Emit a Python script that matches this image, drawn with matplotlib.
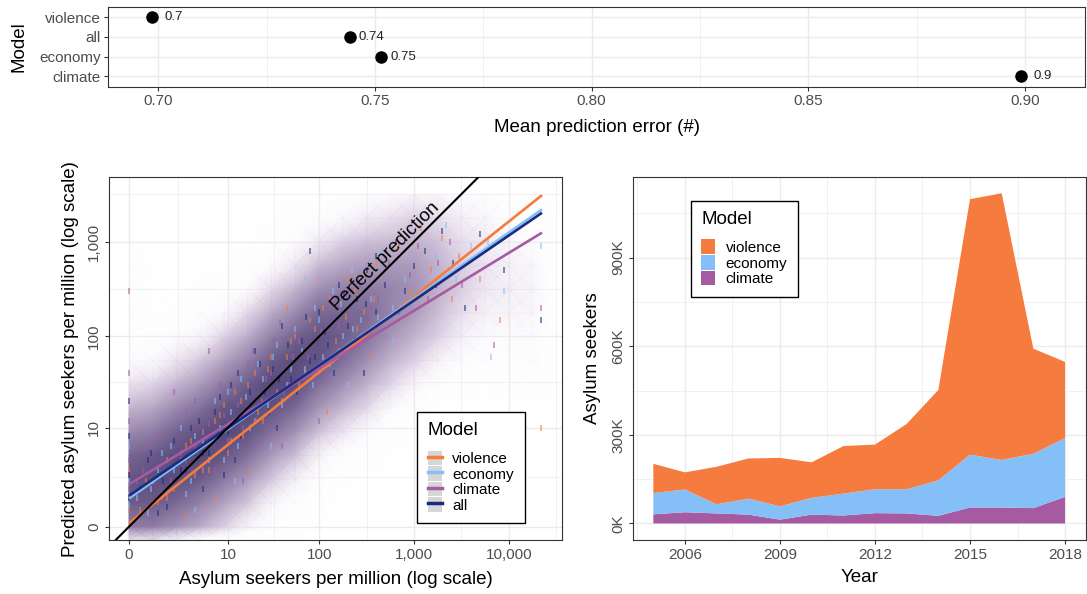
import numpy as np
import matplotlib.pyplot as plt
from matplotlib.colors import LinearSegmentedColormap
from matplotlib.lines import Line2D
from matplotlib.patches import Patch
from matplotlib.ticker import FixedLocator, FuncFormatter

plt.rcParams['font.family'] = ['Liberation Sans', 'DejaVu Sans']

# Mean prediction error per model
err_models = ['climate', 'economy', 'all', 'violence']
err_values = [0.8991, 0.7515, 0.7442, 0.6987]

# Predicted vs observed asylum seekers per million (sample of the cloud)
violence_x = [0, 0, 0, 0.5, 1, 1.5, 2, 3, 4, 5, 6, 8, 10, 12, 15, 20, 25, 30, 40, 50, 60, 80, 100, 130,
              160, 200, 250, 300, 400, 500, 700, 900, 1200, 1500, 2000, 2500, 3000, 5000, 8000, 22000,
              3, 7, 18, 45, 120, 350,
              0.3, 0.8, 1.5, 2.5, 3.5, 5, 7, 9, 11, 14, 17, 22, 28, 35, 45, 55, 70, 90, 110, 150,
              190, 240, 300, 380]
violence_y = [1, 3, 0.5, 2, 0.8, 4, 1.5, 6, 2.5, 9, 3, 14, 5, 25, 8, 40, 12, 60, 20, 90, 30, 150, 45, 250,
              70, 400, 120, 180, 600, 150, 900, 300, 1400, 500, 1100, 250, 700, 400, 150, 10,
              0.3, 1, 3, 200, 15, 60,
              0.5, 2, 1, 4, 7, 3, 12, 18, 7, 20, 30, 15, 45, 25, 60, 100, 40, 120, 200, 90,
              160, 300, 450, 250]
economy_x = [0, 0, 0, 0.7, 1.2, 2, 2.5, 3.5, 5, 7, 9, 11, 14, 18, 22, 28, 35, 45, 55, 70, 90, 110, 140,
             180, 220, 280, 350, 450, 600, 800, 1000, 1300, 1700, 2200, 2800, 4000, 6000, 6500, 9000,
             22000, 4, 12, 30, 70, 200, 600,
             0.2, 0.6, 1, 1.8, 3, 4, 6, 8, 10, 13, 16, 20, 25, 32, 40, 50, 65, 85, 100, 130,
             170, 230, 300, 420]
economy_y = [2, 6, 0.7, 1.5, 5, 3, 10, 2, 7, 20, 4, 15, 35, 10, 50, 18, 80, 30, 120, 45, 200, 60, 300,
             100, 500, 150, 250, 800, 200, 400, 1200, 300, 700, 1500, 400, 900, 1000, 60, 300,
             900, 0.5, 2, 6, 400, 30, 90,
             1, 0.4, 3, 6, 1.2, 8, 4, 10, 25, 6, 22, 12, 35, 60, 18, 45, 70, 30, 150, 50,
             220, 120, 380, 160]
climate_x = [0, 0, 0, 0, 0, 0.4, 1, 1.8, 2.5, 3, 4, 6, 8, 10, 13, 17, 21, 27, 33, 42, 52, 65, 85, 105,
             135, 170, 210, 270, 330, 420, 550, 700, 900, 1100, 1400, 1800, 2400, 3200, 4500, 7000,
             22000, 2, 6, 15, 40, 100,
             0.2, 0.5, 1.2, 2, 3, 4, 5, 7, 9, 12, 15, 19, 24, 30, 38, 48, 60, 75, 95, 120,
             160, 200, 260, 350]
climate_y = [4, 12, 40, 300, 1.5, 3, 8, 2, 5, 15, 6, 11, 30, 7, 18, 50, 12, 35, 90, 25, 60, 150, 40, 110,
             250, 70, 180, 350, 120, 250, 600, 180, 450, 900, 250, 600, 1000, 350, 200, 80,
             200, 25, 70, 2, 6, 12,
             2, 6, 1, 10, 4, 20, 9, 3, 14, 30, 10, 70, 20, 40, 140, 30, 90, 60, 200, 40,
             130, 300, 80, 200]
all_x = [0, 0, 0, 0, 0.6, 1.3, 2, 3, 4.5, 6, 8, 10, 13, 16, 20, 26, 32, 40, 50, 65, 80, 100, 125, 160,
         200, 250, 320, 400, 500, 650, 800, 1000, 1300, 1700, 2000, 2600, 3500, 5000, 9000, 22000,
         1, 5, 12, 35, 80, 300,
         0.3, 0.7, 1.5, 2.5, 3.5, 5, 7, 9, 11, 14, 18, 23, 29, 37, 46, 58, 72, 90, 115, 145,
         185, 240, 310, 400]
all_y = [2.5, 8, 20, 1, 4, 2, 7, 3, 12, 5, 22, 9, 40, 14, 70, 25, 45, 130, 35, 90, 55, 180, 80, 350,
         130, 250, 500, 180, 350, 1000, 300, 550, 800, 350, 1300, 600, 200, 1200, 500, 150,
         0.4, 1.5, 4, 10, 800, 40,
         1.5, 5, 0.6, 3, 10, 5, 15, 2.5, 30, 8, 25, 50, 15, 35, 80, 25, 160, 60, 110, 40,
         280, 90, 220, 700]

# Overall density of the prediction cloud (0-1); rows follow density_y, columns density_x
density_x = [0, 0.78, 2.16, 4.62, 9, 16.8, 30.6, 55.2, 99, 177, 315, 561, 999, 1777, 3161, 5622,
             9999, 17782, 31622]
density_y = [-0.29, 0, 0.78, 2.16, 4.62, 9, 16.8, 30.6, 55.2, 99, 177, 315, 561, 999, 1777, 3161]
density = [
    [.15, .15, .10, .05, .00, .00, .00, .00, .00, .00, .00, .00, .00, .00, .00, .00, .00, .00, 0],
    [.63, .62, .50, .36, .20, .10, .03, .01, .00, .00, .00, .00, .00, .00, .00, .00, .00, .00, 0],
    [.83, .86, .75, .60, .40, .24, .10, .04, .01, .00, .00, .00, .00, .00, .00, .00, .00, .00, 0],
    [.90, .95, .96, .85, .65, .45, .24, .12, .05, .01, .00, .00, .00, .00, .00, .00, .00, .00, 0],
    [.77, .86, .97, 1.0, .90, .70, .45, .28, .11, .04, .02, .00, .00, .00, .00, .00, .00, .00, 0],
    [.54, .62, .80, .92, 1.0, .92, .70, .50, .27, .15, .07, .02, .00, .00, .00, .00, .00, .00, 0],
    [.32, .38, .55, .70, .90, .98, .92, .75, .48, .31, .18, .08, .03, .00, .00, .00, .00, .00, 0],
    [.16, .19, .32, .45, .65, .85, 1.0, .96, .71, .51, .34, .19, .10, .04, .02, .00, .02, .03, 0],
    [.07, .08, .15, .24, .40, .60, .85, .97, .91, .72, .52, .33, .20, .11, .06, .04, .04, .05, 0],
    [.03, .03, .06, .10, .20, .36, .60, .80, .92, .84, .69, .48, .33, .20, .12, .07, .07, .07, 0],
    [.02, .00, .02, .04, .08, .18, .36, .55, .76, .78, .74, .58, .45, .28, .17, .11, .10, .09, 0],
    [.02, .00, .00, .01, .03, .07, .18, .32, .52, .60, .64, .58, .50, .34, .21, .14, .12, .10, 0],
    [.02, .00, .00, .00, .00, .03, .07, .15, .30, .38, .45, .45, .45, .33, .21, .15, .11, .09, 0],
    [.00, .00, .00, .00, .00, .00, .03, .06, .14, .20, .27, .30, .33, .26, .17, .13, .09, .06, 0],
    [.00, .00, .00, .00, .00, .00, .00, .02, .05, .08, .13, .16, .20, .17, .12, .09, .05, .03, 0],
    [.00, .00, .00, .00, .00, .00, .00, .00, .02, .03, .05, .07, .10, .09, .06, .05, .02, .01, 0],
]

# Fitted lines: predicted value at x = 0 and x = 22400
fit_x = [0, 22400]
fit_violence = [0.086, 3090]
fit_economy = [0.99, 2192]
fit_climate = [1.79, 1244]
fit_all = [1.12, 2017]

# Asylum seekers per year attributed to each driver
years = [2005, 2006, 2007, 2008, 2009, 2010, 2011, 2012, 2013, 2014, 2015, 2016, 2017, 2018]
area_climate = [31000, 38000, 34000, 30000, 13000, 30000, 27000, 35000, 34000, 26000, 54000, 54000, 52000, 90000]
area_economy = [72000, 77000, 31000, 54000, 45000, 57000, 74000, 81000, 82000, 120000, 179000, 161000, 184000, 199000]
area_violence = [99000, 58000, 127000, 136000, 164000, 120000, 161000, 151000, 221000, 306000, 865000, 903000, 356000, 258000]

col_violence = '#F57C3E'
col_economy = '#84C0F7'
col_climate = '#A65AA1'
col_all = '#1B2A82'

grid_col = '#EBEBEB'
tick_col = '#4D4D4D'


def style_axes(ax):
    for s in ax.spines.values():
        s.set_color('#333333')
        s.set_linewidth(0.8)
    ax.tick_params(which='major', length=3, width=0.8, color='#333333',
                   labelsize=11, labelcolor=tick_col, pad=2.5)
    ax.tick_params(which='minor', length=0)
    ax.grid(which='major', color=grid_col, lw=1.0)
    ax.grid(which='minor', color=grid_col, lw=0.5)
    ax.set_axisbelow(True)


def model_legend(ax, handles, labels, anchor):
    leg = ax.legend(handles, labels, title='Model', loc='upper left', bbox_to_anchor=anchor,
                    borderaxespad=0, fontsize=11, title_fontsize=13.5,
                    frameon=True, fancybox=False, framealpha=1, edgecolor='black',
                    handlelength=0.9, handleheight=1.1, labelspacing=0.0, handletextpad=0.7,
                    borderpad=0.7, alignment='left')
    leg.get_frame().set_linewidth(1.0)
    leg._legend_box.sep = 8
    leg.set_zorder(10)
    return leg


fig = plt.figure(figsize=(10.87, 5.94), dpi=100)

# ---- top: mean prediction error ----
ax1 = fig.add_axes([0.0996, 0.8540, 0.8990, 0.1347])
ypos = np.arange(1, len(err_models) + 1)
ax1.plot(err_values, ypos, 'o', color='black', ms=8, zorder=3)
for v, yp in zip(err_values, ypos):
    ax1.text(v + 0.005, yp, f'{round(v, 2):g}', ha='center', va='center', fontsize=9.5, color='#222222')
ax1.set_yticks(ypos)
ax1.set_yticklabels(err_models)
ax1.set_ylim(0.47, 4.53)
ax1.set_xlim(0.6885, 0.9139)
ax1.set_xticks([0.70, 0.75, 0.80, 0.85, 0.90])
ax1.set_xticklabels(['0.70', '0.75', '0.80', '0.85', '0.90'])
ax1.xaxis.set_minor_locator(FixedLocator([0.725, 0.775, 0.825, 0.875]))
style_axes(ax1)
ax1.grid(which='minor', axis='y', visible=False)
ax1.set_xlabel('Mean prediction error (#)', fontsize=13.5, labelpad=8)
ax1.set_ylabel('Model', fontsize=13.5, labelpad=8)

# ---- bottom left: predicted vs observed ----
ax2 = fig.add_axes([0.1000, 0.0904, 0.4173, 0.6111])
fwd = lambda v: np.log10(np.asarray(v, dtype=float) + 1)
inv = lambda t: 10 ** np.asarray(t, dtype=float) - 1
ax2.set_xscale('function', functions=(fwd, inv))
ax2.set_yscale('function', functions=(fwd, inv))

# cloud density painted above the grid; the sparse fringe fades slowly to transparent
haze = LinearSegmentedColormap.from_list(
    'haze', [(0.0, (1, 1, 1, 0)), (0.08, (0.94, 0.92, 0.96, 0.3)), (0.2, (0.86, 0.81, 0.89, 1)),
             (0.4, '#B3A2C1'), (0.7, '#83709C'), (1.0, '#55487A')])
ax2.pcolormesh(density_x, density_y, np.array(density), shading='gouraud',
               cmap=haze, vmin=0, vmax=1, zorder=0.6)

for xs, ys, c in [(violence_x, violence_y, col_violence), (economy_x, economy_y, col_economy),
                  (climate_x, climate_y, col_climate), (all_x, all_y, col_all)]:
    ax2.plot(xs, ys, '|', color=c, ms=4, mew=1.3, alpha=0.6, zorder=2)

fits = [('violence', fit_violence, col_violence), ('economy', fit_economy, col_economy),
        ('climate', fit_climate, col_climate), ('all', fit_all, col_all)]
for name, fy, c in fits:
    ax2.plot(fit_x, fy, color=c, lw=1.9, solid_capstyle='butt', zorder=3)

ax2.axline((1, 1), (10, 10), color='black', lw=1.5, zorder=4)
ax2.text(506, 705, 'Perfect prediction', rotation=45, rotation_mode='anchor',
         ha='center', va='center', fontsize=13.5, color='black', zorder=5)

ax2.set_xlim(-0.389, 36640)
ax2.set_ylim(-0.281, 4763)
ax2.xaxis.set_major_locator(FixedLocator([0, 10, 100, 1000, 10000]))
ax2.yaxis.set_major_locator(FixedLocator([0, 10, 100, 1000]))
ax2.xaxis.set_minor_locator(FixedLocator([2.317, 32.3, 317, 3162, 31622]))
ax2.yaxis.set_minor_locator(FixedLocator([2.317, 32.3, 317, 3162]))
comma = FuncFormatter(lambda v, p: f'{int(round(v)):,}')
ax2.xaxis.set_major_formatter(comma)
ax2.yaxis.set_major_formatter(comma)
style_axes(ax2)
for lab in ax2.get_yticklabels():
    lab.set_rotation(90)
    lab.set_va('center')
ax2.set_xlabel('Asylum seekers per million (log scale)', fontsize=13.5, labelpad=6.5)
ax2.set_ylabel('Predicted asylum seekers per million (log scale)', fontsize=13.5, labelpad=5.5)

handles = [(Patch(facecolor='#D6D6D6', edgecolor='none'), Line2D([], [], color=c, lw=2.5))
           for name, fy, c in fits]
model_legend(ax2, handles, [f[0] for f in fits], (0.680, 0.354))

# ---- bottom right: stacked area by year ----
ax3 = fig.add_axes([0.5821, 0.0909, 0.4166, 0.6116])
polys = ax3.stackplot(years, area_climate, area_economy, area_violence,
                      colors=[col_climate, col_economy, col_violence], lw=0, zorder=2)
ax3.set_xlim(2004.35, 2018.65)
ax3.set_ylim(-56000, 1174000)
ax3.set_xticks([2006, 2009, 2012, 2015, 2018])
ax3.xaxis.set_minor_locator(FixedLocator([2004.5, 2007.5, 2010.5, 2013.5, 2016.5]))
ax3.set_yticks([0, 300000, 600000, 900000])
ax3.yaxis.set_minor_locator(FixedLocator([150000, 450000, 750000, 1050000]))
ax3.yaxis.set_major_formatter(FuncFormatter(lambda v, p: f'{int(v / 1000)}K'))
style_axes(ax3)
for lab in ax3.get_yticklabels():
    lab.set_rotation(90)
    lab.set_va('center')
ax3.set_xlabel('Year', fontsize=13.5, labelpad=5)
ax3.set_ylabel('Asylum seekers', fontsize=13.5, labelpad=7.5)

model_legend(ax3, polys[::-1], ['violence', 'economy', 'climate'], (0.128, 0.934))

fig.savefig('out.png', dpi=100)
